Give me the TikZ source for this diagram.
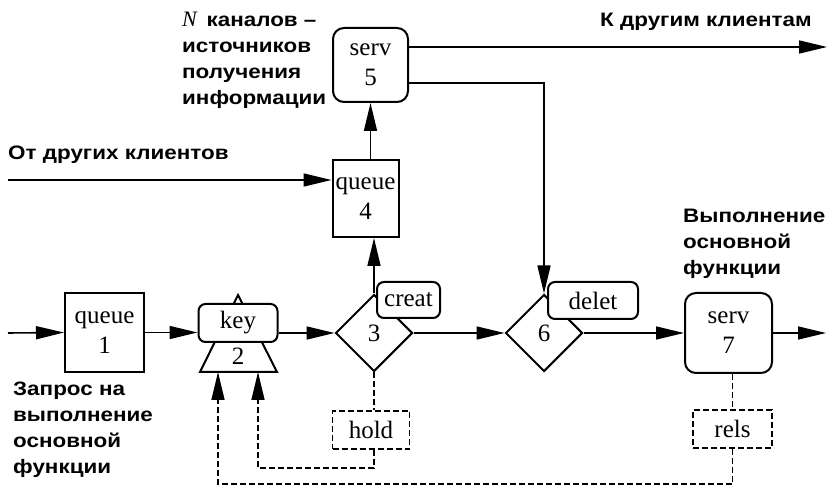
\documentclass[tikz,border=0pt]{standalone}
\usepackage{fontspec}
\setmainfont{Liberation Serif}
\newfontfamily\labfont{Liberation Sans}[FakeStretch=1.15]
\usetikzlibrary{arrows.meta,shapes.geometric}

\tikzset{
  tip/.style={-{Triangle[length=28pt,width=13pt]}},
  conn/.style={line width=1.6pt, tip},
  ctl/.style={line width=1.5pt, dash pattern=on 6pt off 3pt},
  ctlarrow/.style={ctl, tip},
  blk/.style={draw, line width=2pt, font=\fontsize{25}{30}\selectfont,
              align=center, inner sep=0pt},
  sq/.style={blk},
  rnd/.style={blk, rounded corners=11pt},
  tag/.style={blk, rounded corners=7pt, fill=white},
  dsh/.style={blk, line width=1.6pt, dash pattern=on 6pt off 3pt},
  dia/.style={blk, diamond, aspect=1},
  lbl/.style={font=\labfont\bfseries\fontsize{19.5}{26}\selectfont,
              align=left, inner sep=0pt, anchor=base west},
}

\begin{document}
\begin{tikzpicture}[x=1pt, y=-1pt]
\path[use as bounding box] (0,0) rectangle (828,486);

% blocks of the main chain
\node[sq, minimum width=79pt, minimum height=79pt] (q1) at (104.5,332.5) {queue\\1};
\draw[line width=2pt, fill=white] (238,295) -- (200,372) -- (277,372) -- cycle;
\node[font=\fontsize{25}{30}\selectfont, inner sep=0pt] (n2) at (238,356) {2};
\node[tag, minimum width=79pt, minimum height=38pt] (key) at (238,323) {key};
\node[dia, minimum width=77pt, minimum height=77pt] (d3) at (374,333) {3};
\node[dia, minimum width=77pt, minimum height=77pt] (d6) at (544,333) {6};
\node[rnd, minimum width=87pt, minimum height=80pt] (s7) at (728.5,333) {serv\\7};

% information sources
\node[sq, minimum width=66pt, minimum height=77pt] (q4) at (365.5,198.5) {queue\\4};
\node[rnd, minimum width=75pt, minimum height=74pt] (s5) at (370.5,65) {serv\\5};

% control blocks
\node[dsh, minimum width=77pt, minimum height=38pt] (hold) at (371,430) {hold};
\node[dsh, minimum width=79pt, minimum height=38pt] (rels) at (732.5,429) {rels};

% free ends and bends
\coordinate (in1) at (8,333);
\coordinate (in4) at (8,180);
\coordinate (out7) at (826,333);
\coordinate (out5) at (827,47);
\coordinate (turn6) at (544,83);
\coordinate (tA) at (218,372);
\coordinate (tB) at (258,372);
\coordinate (hb) at (258,468);
\coordinate (bot) at (218,484);

% transactions
\draw[conn] (in1) -- (q1.west);
\draw[conn] (q1.east) -- (q1.east -| key.west);
\draw[conn] (d3.west -| key.east) -- (d3.west);
\draw[conn] (d3.east) -- (d6.west);
\draw[conn] (d6.east) -- (s7.west);
\draw[conn] (s7.east) -- (out7);
\draw[conn] (d3.north) -- (d3.north |- q4.south);
\draw[conn] (s5.south |- q4.north) -- (s5.south);
\draw[conn] (in4) -- (in4 -| q4.west);
\draw[conn] (out5 -| s5.east) -- (out5);
\draw[conn] (turn6 -| s5.east) -- (turn6) -- (d6.north);

% control signals
\draw[ctl] (d3.south) -- (d3.south |- hold.north);
\draw[ctlarrow] (d3.south |- hold.south) -- (d3.south |- hb) -- (hb) -- (tB);
\draw[ctl] (rels.north |- s7.south) -- (rels.north);
\draw[ctlarrow] (rels.south) -- (rels.south |- bot) -- (bot) -- (tA);

% operator tags
\node[tag, minimum width=63pt, minimum height=36pt] (creat) at (408.5,300) {creat};
\node[tag, minimum width=90pt, minimum height=37pt] (delet) at (593,300.5) {delet};

% captions (anchored at the baseline of their last line)
\node[lbl] (lN) at (182,105) {{\rmfamily\mdseries\itshape\fontsize{22}{26}\selectfont N}\enspace каналов –\\источников\\получения\\информации};
\node[lbl] (lOther) at (8,160) {От других клиентов};
\node[lbl] (lTo) at (600,27) {К другим клиентам};
\node[lbl] (lExec) at (683,275) {Выполнение\\основной\\функции};
\node[lbl] (lReq) at (13,473) {Запрос на\\выполнение\\основной\\функции};
\end{tikzpicture}
\end{document}
